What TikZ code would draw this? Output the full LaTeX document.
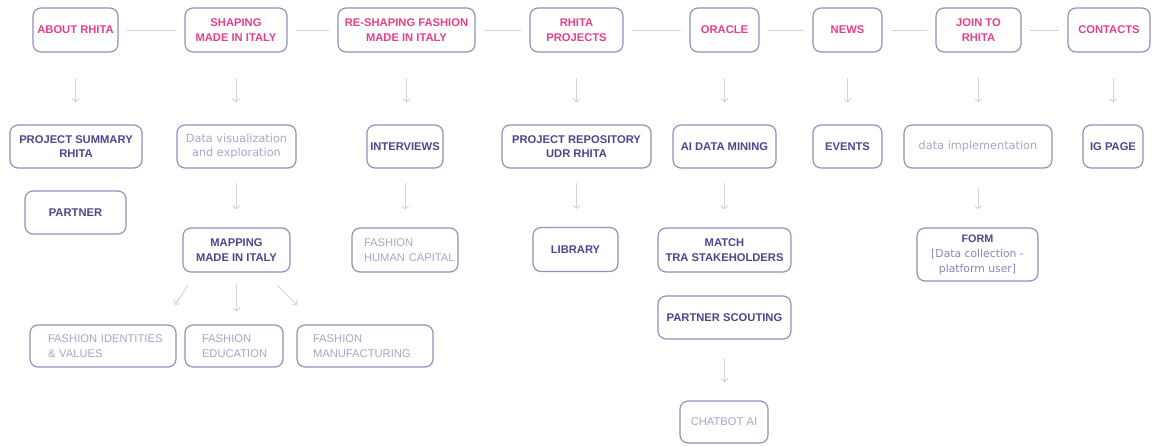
\documentclass[tikz,border=0pt]{standalone}
\usepackage{fontspec}
\setmainfont{Liberation Sans}
\newfontfamily\widefont{DejaVu Sans}
\usetikzlibrary{arrows.meta}
\definecolor{pinkt}{HTML}{E6408C}
\definecolor{darkt}{HTML}{4B488C}
\definecolor{midt}{HTML}{8A86BA}
\definecolor{lightt}{HTML}{A9A5C9}
\definecolor{bordc}{HTML}{9490BF}
\definecolor{linec}{HTML}{D4D4D8}
\begin{document}
\begin{tikzpicture}[x=1pt,y=-1pt,
  box/.style={draw=bordc, line width=1.2pt, rounded corners=8pt, align=center, inner sep=0pt, fill=white},
  topbox/.style={box, text=pinkt, font=\fontsize{11.2}{14.5}\selectfont\bfseries},
  darkbox/.style={box, text=darkt, font=\fontsize{11.2}{14.5}\selectfont\bfseries},
  lightbox/.style={box, text=lightt, font=\fontsize{11.2}{14.5}\selectfont},
  widebox/.style={box, text=lightt, font=\widefont\fontsize{11.3}{14.5}\selectfont},
  leftbox/.style={lightbox, align=left},
  link/.style={draw=linec, line width=1pt},
  arr/.style={link, -{Straight Barb[length=3pt,width=7pt]}}]
\fill[white] (0,0) rectangle (1155,445);
\useasboundingbox (0,0) rectangle (1155,445);
% top row
\node[topbox, minimum width=85pt, minimum height=44pt] (about) at (75.5,30) {ABOUT RHITA};
\node[topbox, minimum width=102pt, minimum height=44pt] (shaping) at (236,30) {SHAPING\\MADE IN ITALY};
\node[topbox, minimum width=137pt, minimum height=44pt] (reshaping) at (406.5,30) {RE-SHAPING FASHION\\MADE IN ITALY};
\node[topbox, minimum width=93pt, minimum height=44pt] (projects) at (576.5,30) {RHITA\\PROJECTS};
\node[topbox, minimum width=69pt, minimum height=44pt] (oracle) at (724.5,30) {ORACLE};
\node[topbox, minimum width=69pt, minimum height=44pt] (news) at (847.5,30) {NEWS};
\node[topbox, minimum width=85pt, minimum height=44pt] (join) at (978.5,30) {JOIN TO\\RHITA};
\node[topbox, minimum width=82pt, minimum height=44pt] (contacts) at (1109,30) {CONTACTS};
% second row
\node[darkbox, minimum width=132pt, minimum height=43pt] (summary) at (76,146.5) {PROJECT SUMMARY\\RHITA};
\node[widebox, minimum width=119pt, minimum height=43pt] (dataviz) at (236.5,146.5) {Data visualization\\and exploration};
\node[darkbox, minimum width=76pt, minimum height=43pt] (interviews) at (405,146.5) {INTERVIEWS};
\node[darkbox, minimum width=149pt, minimum height=43pt] (repo) at (576.5,146.5) {PROJECT REPOSITORY\\UDR RHITA};
\node[darkbox, minimum width=103pt, minimum height=43pt] (mining) at (724.5,146.5) {AI DATA MINING};
\node[darkbox, minimum width=69pt, minimum height=43pt] (events) at (847.5,146.5) {EVENTS};
\node[widebox, minimum width=148pt, minimum height=43pt] (dataimpl) at (978,146.5) {data implementation};
\node[darkbox, minimum width=60pt, minimum height=43pt] (ig) at (1113,146.5) {IG PAGE};
\node[darkbox, minimum width=101pt, minimum height=43pt] (partner) at (75.5,212.5) {PARTNER};
% third row
\node[darkbox, minimum width=107pt, minimum height=44pt] (mapping) at (236.5,250) {MAPPING\\MADE IN ITALY};
\node[leftbox, inner xsep=12pt, text width=82pt, minimum height=44pt] (humancap) at (405,250) {\mbox{FASHION}\\\mbox{HUMAN CAPITAL}};
\node[darkbox, minimum width=85pt, minimum height=44pt] (library) at (575.5,249.5) {LIBRARY};
\node[box, minimum width=121pt, minimum height=53pt, text=midt, font=\widefont\fontsize{10.8}{15}\selectfont] (form) at (977.5,254.5) {{\fontspec{Liberation Sans}\bfseries\color{darkt}FORM}\\{}[Data collection -\\platform user]};
\node[darkbox, minimum width=133pt, minimum height=44pt] (match) at (724.5,250) {MATCH\\TRA STAKEHOLDERS};
\node[darkbox, minimum width=133pt, minimum height=43pt] (scouting) at (724.5,317.5) {PARTNER SCOUTING};
\node[lightbox, minimum width=88pt, minimum height=42pt] (chatbot) at (724,422) {CHATBOT AI};
% fourth row
\node[leftbox, inner xsep=18pt, text width=110pt, minimum height=42pt] (identities) at (103,346) {\mbox{FASHION IDENTITIES}\\\mbox{\& VALUES}};
\node[leftbox, inner xsep=17pt, text width=64pt, minimum height=42pt] (education) at (234,346) {\mbox{FASHION}\\\mbox{EDUCATION}};
\node[leftbox, inner xsep=16pt, text width=104pt, minimum height=42pt] (manufacturing) at (365,346) {\mbox{FASHION}\\\mbox{MANUFACTURING}};
% horizontal links
\foreach \a/\b in {about/shaping, shaping/reshaping, reshaping/projects, projects/oracle, oracle/news, news/join, join/contacts}
  \draw[link, shorten <=8pt, shorten >=8pt] (\a) -- (\b);
% top to second row
\foreach \a/\b in {about/summary, shaping/dataviz, reshaping/interviews, projects/repo, oracle/mining, news/events, join/dataimpl}
  \draw[arr, shorten <=25pt, shorten >=22pt] (\a.south) -- (\a.south |- \b.north);
\draw[arr, shorten <=25pt, shorten >=22pt] (ig.north |- contacts.south) -- (ig.north);
% second to third row
\foreach \a/\b in {dataviz/mapping, interviews/humancap, repo/library, mining/match}
  \draw[arr, shorten <=14pt, shorten >=18pt] (\a.south) -- (\a.south |- \b.north);
\draw[arr, shorten <=19pt, shorten >=18pt] (dataimpl.south) -- (dataimpl.south |- form.north);
\draw[arr, shorten <=18pt, shorten >=18pt] (scouting.south) -- (scouting.south |- chatbot.north);
% mapping to fashion rows
\draw[arr, shorten <=11pt, shorten >=13pt] (mapping.south) -- (mapping.south |- education.north);
\coordinate (dl1) at (188,285);
\coordinate (dl2) at (175,305);
\coordinate (dr1) at (277,285);
\coordinate (dr2) at (297,305);
\draw[arr] (dl1) -- (dl2);
\draw[arr] (dr1) -- (dr2);
\end{tikzpicture}
\end{document}
